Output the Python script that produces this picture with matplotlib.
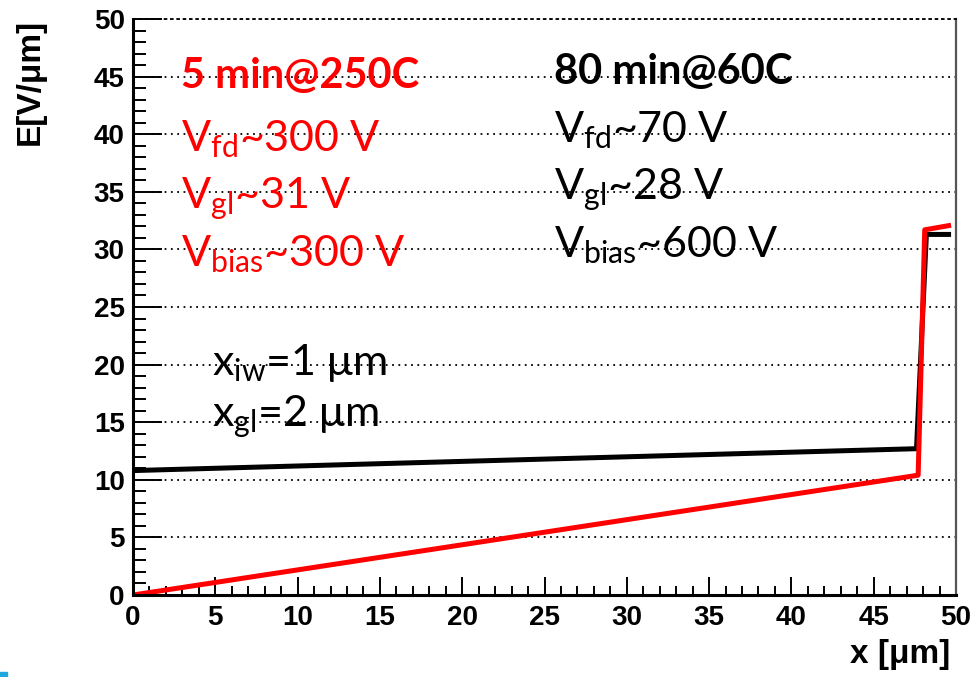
import matplotlib
matplotlib.use('Agg')
import matplotlib.pyplot as plt
from matplotlib.ticker import MultipleLocator
from matplotlib.patches import Rectangle

# field profiles (x in um, E in V/um)
x_black = [0, 47.6, 48.2, 49.7]
E_black = [10.8, 12.7, 31.3, 31.3]
x_red = [0, 47.7, 48.1, 49.7]
E_red = [0.0, 10.4, 31.7, 32.1]

red_lines = ["5 min@250C", r"$\mathregular{V_{fd}}$~300 V",
             r"$\mathregular{V_{gl}}$~31 V", r"$\mathregular{V_{bias}}$~300 V"]
black_lines = ["80 min@60C", r"$\mathregular{V_{fd}}$~70 V",
               r"$\mathregular{V_{gl}}$~28 V", r"$\mathregular{V_{bias}}$~600 V"]
geo_lines = [r"$\mathregular{x_{iw}}$=1 μm", r"$\mathregular{x_{gl}}$=2 μm"]

plt.rcParams['mathtext.fontset'] = 'custom'
plt.rcParams['mathtext.rm'] = 'Lato'
plt.rcParams['mathtext.it'] = 'Lato:italic'
plt.rcParams['mathtext.bf'] = 'Lato:bold'

fig = plt.figure(figsize=(9.73, 6.77), dpi=100)
ax = fig.add_axes([133/973, 1-595/677, (956-133)/973, (595-19)/677])

ax.plot(x_black, E_black, color='black', lw=3.6, solid_capstyle='butt')
ax.plot(x_red, E_red, color='#ff0000', lw=3.6, solid_capstyle='butt')

ax.set_xlim(0, 50)
ax.set_ylim(0, 50)
ax.xaxis.set_major_locator(MultipleLocator(5))
ax.xaxis.set_minor_locator(MultipleLocator(1))
ax.yaxis.set_major_locator(MultipleLocator(5))
ax.yaxis.set_minor_locator(MultipleLocator(1))
ax.yaxis.grid(True, which='major', ls=(0, (1, 2.5)), color='black', lw=1.3)
ax.set_axisbelow(True)

ax.tick_params(axis='y', which='major', direction='in', length=21, width=1.4, pad=6)
ax.tick_params(axis='y', which='minor', direction='in', length=9.5, width=1.4)
ax.tick_params(axis='x', which='major', direction='in', length=13, width=1.4, pad=7)
ax.tick_params(axis='x', which='minor', direction='in', length=6.5, width=1.4)
for lab in ax.get_xticklabels() + ax.get_yticklabels():
    lab.set_fontfamily('Liberation Sans')
    lab.set_fontweight('bold')
    lab.set_fontsize(20)

ax.spines['left'].set_linewidth(2.2)
ax.spines['bottom'].set_linewidth(2.2)
ax.spines['right'].set_color('#555555')
ax.spines['right'].set_linewidth(1.6)
ax.spines['top'].set_linestyle((0, (1, 2.5)))
ax.spines['top'].set_linewidth(1.3)

# annotations
red_y = [44.0, 38.5, 33.6, 28.5]
blk_y = [44.4, 39.3, 34.3, 29.3]
for i, s in enumerate(red_lines):
    ax.text(2.9, red_y[i], s, color='#ff0000', fontsize=30 if i == 0 else 31,
            family='Lato', fontweight='bold' if i == 0 else 'normal', va='baseline')
for i, s in enumerate(black_lines):
    ax.text(25.6, blk_y[i], s, color='black', fontsize=30 if i == 0 else 31,
            family='Lato', fontweight='bold' if i == 0 else 'normal', va='baseline')
for s, yy in zip(geo_lines, [19.1, 14.6]):
    ax.text(4.8, yy, s, color='black', fontsize=31, family='Lato', va='baseline')

fig.text(30/973, 1-19/677, "E[V/μm]", rotation=90, ha='center', va='top',
         fontsize=24, fontweight='bold', family='Liberation Sans')
fig.text(950/973, 1-655/677, "x [μm]", ha='right', va='center',
         fontsize=24, fontweight='bold', family='Liberation Sans')

fig.patches.append(Rectangle((0, 0), 7/973, 5/677, transform=fig.transFigure,
                             color='#1fa7e0', figure=fig))

fig.savefig('out.png', dpi=100)
